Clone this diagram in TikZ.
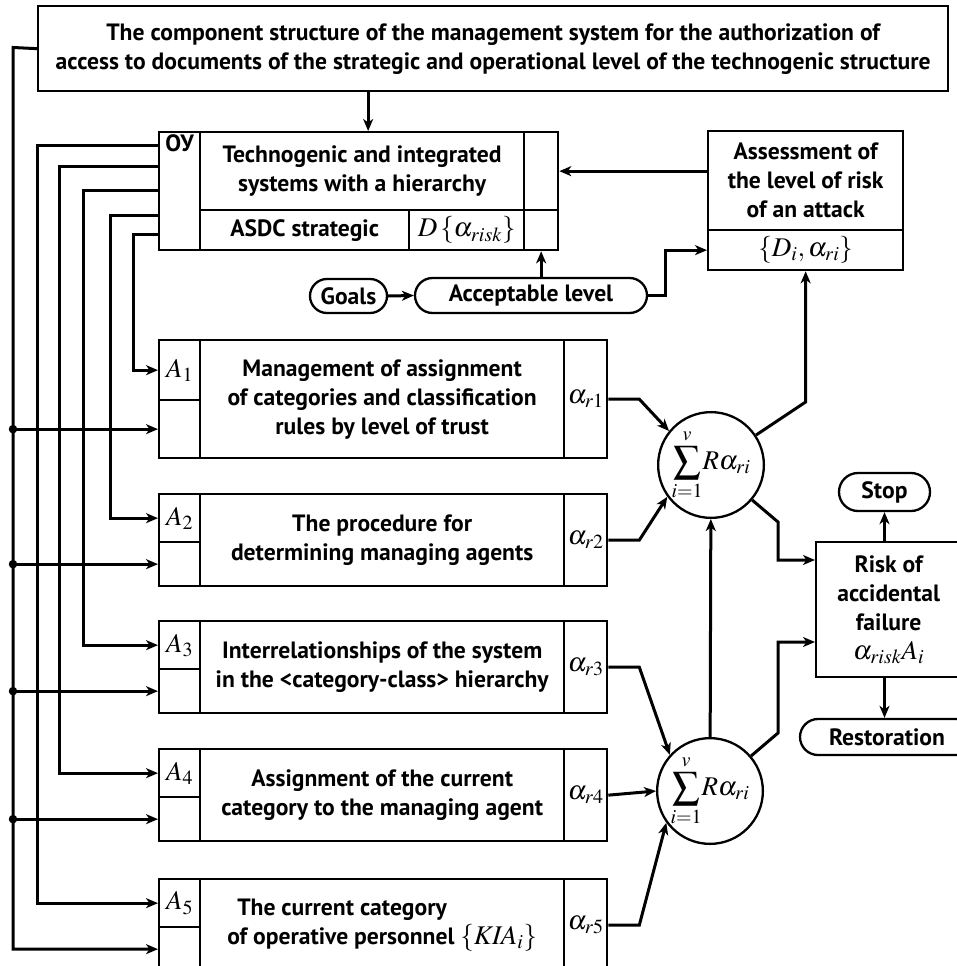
\documentclass[tikz,border=0pt]{standalone}
\usepackage{mathptmx}
\usepackage[no-math]{fontspec}
\setmainfont{PT Sans}
\usetikzlibrary{calc,arrows.meta,shapes.misc}

% larger setting for formulas
\newcommand\fm[1]{{\fontsize{27}{29}\selectfont$#1$}}
% rectangular cell placed by its top-left corner: name, x, y, width, height, text
\newcommand\mkcell[6]{\node[cell,minimum width=#4pt,minimum height=#5pt] (#1) at (#2,#3) {#6};}
% one functional block A_i: index, top, height of label cell, total height, text, text options
\newcommand\mkblock[6]{%
  \mkcell{a#1up}{158}{#2}{41}{#3}{\fm{A_{#1}}}
  \mkcell{a#1lo}{158}{#2+#3}{41}{#4-#3}{}
  \node[cell,minimum width=364pt,minimum height=#4pt,#6] (a#1tx) at (199,#2) {#5};
  \mkcell{a#1al}{563}{#2}{43}{#4}{\fm{\alpha_{r#1}}}}

\begin{document}
\begin{tikzpicture}[x=1pt,y=-1pt,
  every node/.style={font=\fontsize{23.6}{29}\selectfont\bfseries},
  cell/.style={draw,line width=2.3pt,rectangle,inner sep=0pt,anchor=north west,align=center},
  term/.style={draw,line width=2.3pt,rounded rectangle,inner sep=0pt,anchor=center},
  sumnode/.style={draw,line width=2.3pt,circle,inner sep=0pt,minimum size=102pt},
  wire/.style={line width=3pt},
  conn/.style={wire,-{Stealth[length=12pt,width=10pt,inset=3.5pt]}},
  dot/.style={fill,circle,inner sep=0pt,minimum size=8.5pt}]

\useasboundingbox (0,0) rectangle (957,966);
\clip (0,0) rectangle (957,966);

% heading block
\mkcell{title}{37}{5}{910}{85}{The component structure of the management system for the authorization of\\access to documents of the strategic and operational level of the technogenic structure}

% control object block
\mkcell{oyc}{158}{131}{41}{118}{}
\node[anchor=north,inner sep=0pt] (oylab) at ([yshift=-3pt]oyc.north) {ОУ};
\mkcell{tech}{199}{131}{324}{78}{Technogenic and integrated\\systems with a hierarchy}
\mkcell{asdc}{199}{209}{209}{40}{ASDC strategic}
\mkcell{dcell}{408}{209}{115}{40}{\fm{D\left\{\alpha_{risk}\right\}}}
\mkcell{rc1}{523}{131}{34}{78}{}
\mkcell{rc2}{523}{209}{34}{40}{}

% risk assessment
\mkcell{asmt}{707}{130}{195}{99}{Assessment of\\the level of risk\\of an attack}
\mkcell{asmtb}{707}{229}{195}{40}{\fm{\left\{D_i,\alpha_{ri}\right\}}}

% terminals
\node[term,minimum width=77pt,minimum height=34pt] (goals) at (348.5,296) {Goals};
\node[term,minimum width=232pt,minimum height=35pt] (acc) at (531,295.5) {Acceptable level};
\node[term,minimum width=91pt,minimum height=38pt] (stop) at (884.5,492) {Stop};
\node[term,minimum width=174pt,minimum height=36pt] (restor) at (887,737) {Restoration};

% functional blocks
\mkblock{1}{339}{60}{118}{Management of assignment\\of categories and classification\\rules by level of trust}{}
\mkblock{2}{493}{48}{92}{The procedure for\\determining managing agents}{}
\mkblock{3}{620}{48}{92}{Interrelationships of the system\\in the <category-class> hierarchy}{}
\mkblock{4}{748}{48}{92}{Assignment of the current\\category to the managing agent}{}
\mkblock{5}{878}{48}{92}{\hspace*{10pt}The current category\\of operative personnel \fm{\left\{\mathit{KIA}_i\right\}}}{align=left}

% risk of failure
\mkcell{risk}{815}{541}{145}{135}{Risk of\\accidental\\failure\\\fm{\alpha_{risk}A_i}}

% summation nodes
\node[sumnode] (s1) at (711,465) {\fm{\displaystyle\sum_{i=1}^{v}\!R\alpha_{ri}}};
\node[sumnode] (s2) at (710,791) {\fm{\displaystyle\sum_{i=1}^{v}\!R\alpha_{ri}}};

% top-level flow
\coordinate (tin) at ([xshift=6pt]tech.north);
\draw[conn] (title.south -| tin) -- (tin);
\draw[conn] (asmt.west |- rc1.east) -- (rc1.east);
\draw[conn] (goals.east) -- (acc.west);
\draw[conn] (rc2.south |- acc.north) -- (rc2.south);
\draw[conn] (acc.east) -- ++(17,0) |- (asmtb.west);

% feeders from the control object to the blocks
\draw[conn] ([yshift=-14pt]oyc.north west) -| ([xshift=-121pt]a5up.west) -- (a5up.west);
\draw[conn] ([yshift=-35pt]oyc.north west) -| ([xshift=-99pt]a4up.west) -- (a4up.west);
\draw[conn] ([yshift=-59pt]oyc.north west) -| ([xshift=-75pt]a3up.west) -- (a3up.west);
\draw[conn] ([yshift=-84pt]oyc.north west) -| ([xshift=-48pt]a2up.west) -- (a2up.west);
\draw[conn] ([yshift=-103pt]oyc.north west) -| ([xshift=-25pt]a1up.west) -- (a1up.west);

% common bus from the heading block
\coordinate (bus) at (13,47.5);
\draw[conn] (title.west) -- (bus) |- (a5lo.west);
\foreach \i in {1,2,3,4}{
  \draw[conn] (bus |- a\i lo.west) -- (a\i lo.west);
  \node[dot] (j\i) at (bus |- a\i lo.west) {};
}

% block outputs into the summation nodes
\draw[conn] (a1al.east) -- ++(31,0) -- (s1.141);
\draw[conn] (a2al.east) -- ++(31,0) -- (s1.216);
\draw[conn] (a3al.east) -- ++(31,0) -- (s2.138);
\draw[conn] (a4al.east) -- (s2.west);
\draw[conn] (a5al.east) -- ++(31,0) -- (s2.216);

% summation outputs
\draw[conn] (s2) -- (s1);
\coordinate (k1) at (asmtb.south |- 0,402);
\draw[conn] (s1) -- (k1) -- (asmtb.south);
\coordinate (k2) at (778,522);
\draw[conn] (s1) -- (k2) |- ([yshift=-19pt]risk.north west);
\coordinate (k3) at (778,733);
\draw[conn] (s2) -- (k3) |- ([yshift=-101pt]risk.north west);

% outcomes
\draw[conn] (stop.south |- risk.north) -- (stop.south);
\draw[conn] (stop.south |- risk.south) -- (stop.south |- restor.north);
\end{tikzpicture}
\end{document}
